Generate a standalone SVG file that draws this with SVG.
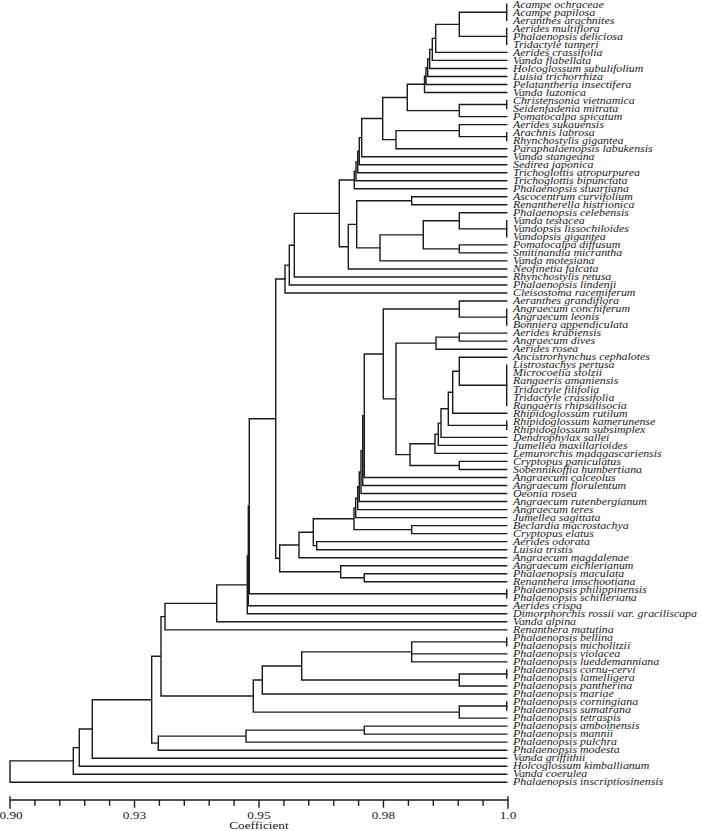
<svg xmlns="http://www.w3.org/2000/svg" width="702" height="831" viewBox="0 0 702 831">
<style>
.lb{font-family:"Liberation Serif","Times New Roman",serif;font-style:italic;font-size:9.6px;fill:#1a1a1a}
.ax{font-family:"Liberation Serif","Times New Roman",serif;font-size:10px;fill:#1a1a1a;text-anchor:middle}
.ln{fill:none;stroke:#1a1a1a;stroke-width:1.4;stroke-linecap:square}
</style>
<rect width="702" height="831" fill="#fff"/>
<g id="connectors" class="ln">
<path id="ties" d="M506.7 4.3V20.3M506.7 28.4V44.4M506.7 100.5V108.6M506.7 132.6V140.6M506.7 220.8V236.9M506.7 309.1V325.1M506.7 365.2V405.3M506.7 421.3V429.4M506.7 589.8V597.8M506.7 637.9V645.9M506.7 670V678M506.7 702V710.1"/>
<path d="M459.3 12.3V36.4M459.3 12.3H506.7M459.3 36.4H506.7
M435.7 24.35V52.4M435.7 24.35H459.3M435.7 52.4H506.7
M432.3 38.4V60.4M432.3 38.4H435.7M432.3 60.4H506.7
M429.7 49.4V68.5M429.7 49.4H432.3M429.7 68.5H506.7
M427.7 58.95V76.5M427.7 58.95H429.7M427.7 76.5H506.7
M426 67.7V84.5M426 67.7H427.7M426 84.5H506.7
M424.5 76.1V92.5M424.5 76.1H426M424.5 92.5H506.7
M459.3 104.55V116.6M459.3 104.55H506.7M459.3 116.6H506.7
M407.3 84.3V110.6M407.3 84.3H424.5M407.3 110.6H459.3
M459.3 124.6V136.6M459.3 124.6H506.7M459.3 136.6H506.7
M396 130.6V148.7M396 130.6H459.3M396 148.7H506.7
M382.7 97.45V139.65M382.7 97.45H407.3M382.7 139.65H396
M361.7 118.55V156.7M361.7 118.55H382.7M361.7 156.7H506.7
M359.3 137.6V164.7M359.3 137.6H361.7M359.3 164.7H506.7
M357.7 151.15V172.7M357.7 151.15H359.3M357.7 172.7H506.7
M356 161.9V180.7M356 161.9H357.7M356 180.7H506.7
M354.3 171.3V188.8M354.3 171.3H356M354.3 188.8H506.7
M411.7 196.8V204.8M411.7 196.8H506.7M411.7 204.8H506.7
M459.3 212.8V228.85M459.3 212.8H506.7M459.3 228.85H506.7
M459.3 244.9V252.9M459.3 244.9H506.7M459.3 252.9H506.7
M423.3 220.8V248.9M423.3 220.8H459.3M423.3 248.9H459.3
M380 234.85V260.9M380 234.85H423.3M380 260.9H506.7
M356.7 200.8V247.9M356.7 200.8H411.7M356.7 247.9H380
M348.3 224.35V269M348.3 224.35H356.7M348.3 269H506.7
M339.3 180.05V246.7M339.3 180.05H354.3M339.3 246.7H348.3
M294.3 213.4V277M294.3 213.4H339.3M294.3 277H506.7
M289.3 245.2V285M289.3 245.2H294.3M289.3 285H506.7
M285 265.1V293M285 265.1H289.3M285 293H506.7"/>
<path d="M459.3 301V317.1M459.3 301H506.7M459.3 317.1H506.7
M459.3 333.1V341.1M459.3 333.1H506.7M459.3 341.1H506.7
M436 337.1V349.2M436 337.1H459.3M436 349.2H506.7
M459.3 357.2V385.25M459.3 357.2H506.7M459.3 385.25H506.7
M452.7 371.2V413.3M452.7 371.2H459.3M452.7 413.3H506.7
M448.3 392.25V425.35M448.3 392.25H452.7M448.3 425.35H506.7
M441 408.8V437.4M441 408.8H448.3M441 437.4H506.7
M438.3 423.1V445.4M438.3 423.1H441M438.3 445.4H506.7
M435 434.25V453.4M435 434.25H438.3M435 453.4H506.7
M459.3 461.4V469.5M459.3 461.4H506.7M459.3 469.5H506.7
M410 443.8V465.45M410 443.8H435M410 465.45H459.3
M396 343.15V454.6M396 343.15H436M396 454.6H410
M383.3 309.05V398.9M383.3 309.05H459.3M383.3 398.9H396
M364.3 353.95V477.5M364.3 353.95H383.3M364.3 477.5H506.7
M362.7 415.7V485.5M362.7 415.7H364.3M362.7 485.5H506.7
M361 450.6V493.5M361 450.6H362.7M361 493.5H506.7
M359.3 472.05V501.5M359.3 472.05H361M359.3 501.5H506.7
M357.7 486.8V509.6M357.7 486.8H359.3M357.7 509.6H506.7
M355.7 498.2V517.6M355.7 498.2H357.7M355.7 517.6H506.7
M411.7 525.6V533.6M411.7 525.6H506.7M411.7 533.6H506.7
M354 507.9V529.6M354 507.9H355.7M354 529.6H411.7
M316.7 541.6V549.7M316.7 541.6H506.7M316.7 549.7H506.7
M313.3 518.75V545.65M313.3 518.75H354M313.3 545.65H316.7
M299 532.2V557.7M299 532.2H313.3M299 557.7H506.7
M364.3 573.7V581.7M364.3 573.7H506.7M364.3 581.7H506.7
M340.7 565.7V577.7M340.7 565.7H506.7M340.7 577.7H364.3
M279.7 544.95V571.7M279.7 544.95H299M279.7 571.7H340.7
M275.7 279.05V558.3M275.7 279.05H285M275.7 558.3H279.7
M249.3 418.7V593.8M249.3 418.7H275.7M249.3 593.8H506.7
M248.3 506.25V605.8M248.3 506.25H249.3M248.3 605.8H506.7
M247.3 556V613.8M247.3 556H248.3M247.3 613.8H506.7
M216.7 584.9V621.8M216.7 584.9H247.3M216.7 621.8H506.7
M165 603.35V629.9M165 603.35H216.7M165 629.9H506.7"/>
<path d="M411.7 641.9V661.9M411.7 641.9H506.7M411.7 653.9H506.7M411.7 661.9H506.7
M459.3 674V686M459.3 674H506.7M459.3 686H506.7
M301.7 651.9V680M301.7 651.9H411.7M301.7 680H459.3
M262.3 665.95V694M262.3 665.95H301.7M262.3 694H506.7
M459.3 706.05V718.1M459.3 706.05H506.7M459.3 718.1H506.7
M253.3 679.97V712.1M253.3 679.97H262.3M253.3 712.1H459.3
M161 616.6V696.05M161 616.6H165M161 696.05H253.3
M364.3 726.1V734.1M364.3 726.1H506.7M364.3 734.1H506.7
M246 730.1V742.1M246 730.1H364.3M246 742.1H506.7
M158.3 736.1V750.2M158.3 736.1H246M158.3 750.2H506.7
M151.7 656.3V743.15M151.7 656.3H161M151.7 743.15H158.3
M92.3 699.7V758.2M92.3 699.7H151.7M92.3 758.2H506.7
M79.3 728.95V766.2M79.3 728.95H92.3M79.3 766.2H506.7
M73.3 747.6V774.2M73.3 747.6H79.3M73.3 774.2H506.7
M10 760.9V782.2M10 760.9H73.3M10 782.2H506.7"/>
</g>
<g id="axis">
<path class="ln" d="M10 800H508M10 797V808M34.9 800v5M59.8 800v5M84.7 800v5M109.6 800v5M134.5 800v7M159.4 800v5M184.3 800v5M209.2 800v5M234.1 800v5M259 800v7M283.9 800v5M308.8 800v5M333.7 800v5M358.6 800v5M383.5 800v7M408.4 800v5M433.3 800v5M458.2 800v5M483.1 800v5M508 797V808"/>
<g transform="scale(1.33,1)">
<text class="ax" x="8.3" y="819">0.90</text>
<text class="ax" x="101.1" y="819">0.93</text>
<text class="ax" x="194.7" y="819">0.95</text>
<text class="ax" x="288.3" y="819">0.98</text>
<text class="ax" x="381.95" y="819">1.0</text>
<text class="ax" x="194.7" y="829">Coefficient</text>
</g>
</g>
<g id="leaves" class="lb" transform="scale(1.24,1)">
<g id="n0"><text x="413.7" y="7.6">Acampe ochraceae</text></g>
<g id="n1"><text x="413.7" y="15.6">Acampe papilosa</text></g>
<g id="n2"><text x="413.7" y="23.6">Aeranthes arachnites</text></g>
<g id="n3"><text x="413.7" y="31.7">Aerides multiflora</text></g>
<g id="n4"><text x="413.7" y="39.7">Phalaenopsis deliciosa</text></g>
<g id="n5"><text x="413.7" y="47.7">Tridactyle tanneri</text></g>
<g id="n6"><text x="413.7" y="55.7">Aerides crassifolia</text></g>
<g id="n7"><text x="413.7" y="63.7">Vanda flabellata</text></g>
<g id="n8"><text x="413.7" y="71.8">Holcoglossum subulifolium</text></g>
<g id="n9"><text x="413.7" y="79.8">Luisia trichorrhiza</text></g>
<g id="n10"><text x="413.7" y="87.8">Pelatantheria insectifera</text></g>
<g id="n11"><text x="413.7" y="95.8">Vanda luzonica</text></g>
<g id="n12"><text x="413.7" y="103.8">Christensonia vietnamica</text></g>
<g id="n13"><text x="413.7" y="111.9">Seidenfadenia mitrata</text></g>
<g id="n14"><text x="413.7" y="119.9">Pomatocalpa spicatum</text></g>
<g id="n15"><text x="413.7" y="127.9">Aerides sukauensis</text></g>
<g id="n16"><text x="413.7" y="135.9">Arachnis labrosa</text></g>
<g id="n17"><text x="413.7" y="143.9">Rhynchostylis gigantea</text></g>
<g id="n18"><text x="413.7" y="152">Paraphalaenopsis labukensis</text></g>
<g id="n19"><text x="413.7" y="160">Vanda stangeana</text></g>
<g id="n20"><text x="413.7" y="168">Sedirea japonica</text></g>
<g id="n21"><text x="413.7" y="176">Trichoglottis atropurpurea</text></g>
<g id="n22"><text x="413.7" y="184">Trichoglottis bipunctata</text></g>
<g id="n23"><text x="413.7" y="192.1">Phalaenopsis stuartiana</text></g>
<g id="n24"><text x="413.7" y="200.1">Ascocentrum curvifolium</text></g>
<g id="n25"><text x="413.7" y="208.1">Renantherella histrionica</text></g>
<g id="n26"><text x="413.7" y="216.1">Phalaenopsis celebensis</text></g>
<g id="n27"><text x="413.7" y="224.1">Vanda testacea</text></g>
<g id="n28"><text x="413.7" y="232.2">Vandopsis lissochiloides</text></g>
<g id="n29"><text x="413.7" y="240.2">Vandopsis gigantea</text></g>
<g id="n30"><text x="413.7" y="248.2">Pomatocalpa diffusum</text></g>
<g id="n31"><text x="413.7" y="256.2">Smitinandia micrantha</text></g>
<g id="n32"><text x="413.7" y="264.2">Vanda motesiana</text></g>
<g id="n33"><text x="413.7" y="272.3">Neofinetia falcata</text></g>
<g id="n34"><text x="413.7" y="280.3">Rhynchostylis retusa</text></g>
<g id="n35"><text x="413.7" y="288.3">Phalaenopsis lindenii</text></g>
<g id="n36"><text x="413.7" y="296.3">Cleisostoma racemiferum</text></g>
<g id="n37"><text x="413.7" y="304.3">Aeranthes grandiflora</text></g>
<g id="n38"><text x="413.7" y="312.4">Angraecum conchiferum</text></g>
<g id="n39"><text x="413.7" y="320.4">Angraecum leonis</text></g>
<g id="n40"><text x="413.7" y="328.4">Bonniera appendiculata</text></g>
<g id="n41"><text x="413.7" y="336.4">Aerides krabiensis</text></g>
<g id="n42"><text x="413.7" y="344.4">Angraecum dives</text></g>
<g id="n43"><text x="413.7" y="352.5">Aerides rosea</text></g>
<g id="n44"><text x="413.7" y="360.5">Ancistrorhynchus cephalotes</text></g>
<g id="n45"><text x="413.7" y="368.5">Listrostachys pertusa</text></g>
<g id="n46"><text x="413.7" y="376.5">Microcoelia stolzii</text></g>
<g id="n47"><text x="413.7" y="384.5">Rangaeris amaniensis</text></g>
<g id="n48"><text x="413.7" y="392.6">Tridactyle filifolia</text></g>
<g id="n49"><text x="413.7" y="400.6">Tridactyle crassifolia</text></g>
<g id="n50"><text x="413.7" y="408.6">Rangaeris rhipsalisocia</text></g>
<g id="n51"><text x="413.7" y="416.6">Rhipidoglossum rutilum</text></g>
<g id="n52"><text x="413.7" y="424.6">Rhipidoglossum kamerunense</text></g>
<g id="n53"><text x="413.7" y="432.7">Rhipidoglossum subsimplex</text></g>
<g id="n54"><text x="413.7" y="440.7">Dendrophylax sallei</text></g>
<g id="n55"><text x="413.7" y="448.7">Jumellea maxillarioides</text></g>
<g id="n56"><text x="413.7" y="456.7">Lemurorchis madagascariensis</text></g>
<g id="n57"><text x="413.7" y="464.7">Cryptopus paniculatus</text></g>
<g id="n58"><text x="413.7" y="472.8">Sobennikoffia humbertiana</text></g>
<g id="n59"><text x="413.7" y="480.8">Angraecum calceolus</text></g>
<g id="n60"><text x="413.7" y="488.8">Angraecum florulentum</text></g>
<g id="n61"><text x="413.7" y="496.8">Oeonia rosea</text></g>
<g id="n62"><text x="413.7" y="504.8">Angraecum rutenbergianum</text></g>
<g id="n63"><text x="413.7" y="512.9">Angraecum teres</text></g>
<g id="n64"><text x="413.7" y="520.9">Jumellea sagittata</text></g>
<g id="n65"><text x="413.7" y="528.9">Beclardia macrostachya</text></g>
<g id="n66"><text x="413.7" y="536.9">Cryptopus elatus</text></g>
<g id="n67"><text x="413.7" y="544.9">Aerides odorata</text></g>
<g id="n68"><text x="413.7" y="553">Luisia tristis</text></g>
<g id="n69"><text x="413.7" y="561">Angraecum magdalenae</text></g>
<g id="n70"><text x="413.7" y="569">Angraecum eichlerianum</text></g>
<g id="n71"><text x="413.7" y="577">Phalaenopsis maculata</text></g>
<g id="n72"><text x="413.7" y="585">Renanthera imschootiana</text></g>
<g id="n73"><text x="413.7" y="593.1">Phalaenopsis philippinensis</text></g>
<g id="n74"><text x="413.7" y="601.1">Phalaenopsis schilleriana</text></g>
<g id="n75"><text x="413.7" y="609.1">Aerides crispa</text></g>
<g id="n76"><text x="413.7" y="617.1">Dimorphorchis rossii var. graciliscapa</text></g>
<g id="n77"><text x="413.7" y="625.1">Vanda alpina</text></g>
<g id="n78"><text x="413.7" y="633.2">Renanthera matutina</text></g>
<g id="n79"><text x="413.7" y="641.2">Phalaenopsis bellina</text></g>
<g id="n80"><text x="413.7" y="649.2">Phalaenopsis micholitzii</text></g>
<g id="n81"><text x="413.7" y="657.2">Phalaenopsis violacea</text></g>
<g id="n82"><text x="413.7" y="665.2">Phalaenopsis lueddemanniana</text></g>
<g id="n83"><text x="413.7" y="673.3">Phalaenopsis cornu-cervi</text></g>
<g id="n84"><text x="413.7" y="681.3">Phalaenopsis lamelligera</text></g>
<g id="n85"><text x="413.7" y="689.3">Phalaenopsis pantherina</text></g>
<g id="n86"><text x="413.7" y="697.3">Phalaenopsis mariae</text></g>
<g id="n87"><text x="413.7" y="705.3">Phalaenopsis corningiana</text></g>
<g id="n88"><text x="413.7" y="713.4">Phalaenopsis sumatrana</text></g>
<g id="n89"><text x="413.7" y="721.4">Phalaenopsis tetraspis</text></g>
<g id="n90"><text x="413.7" y="729.4">Phalaenopsis amboinensis</text></g>
<g id="n91"><text x="413.7" y="737.4">Phalaenopsis mannii</text></g>
<g id="n92"><text x="413.7" y="745.4">Phalaenopsis pulchra</text></g>
<g id="n93"><text x="413.7" y="753.5">Phalaenopsis modesta</text></g>
<g id="n94"><text x="413.7" y="761.5">Vanda griffithii</text></g>
<g id="n95"><text x="413.7" y="769.5">Holcoglossum kimballianum</text></g>
<g id="n96"><text x="413.7" y="777.5">Vanda coerulea</text></g>
<g id="n97"><text x="413.7" y="785.5">Phalaenopsis inscriptiosinensis</text></g>
</g>
</svg>
